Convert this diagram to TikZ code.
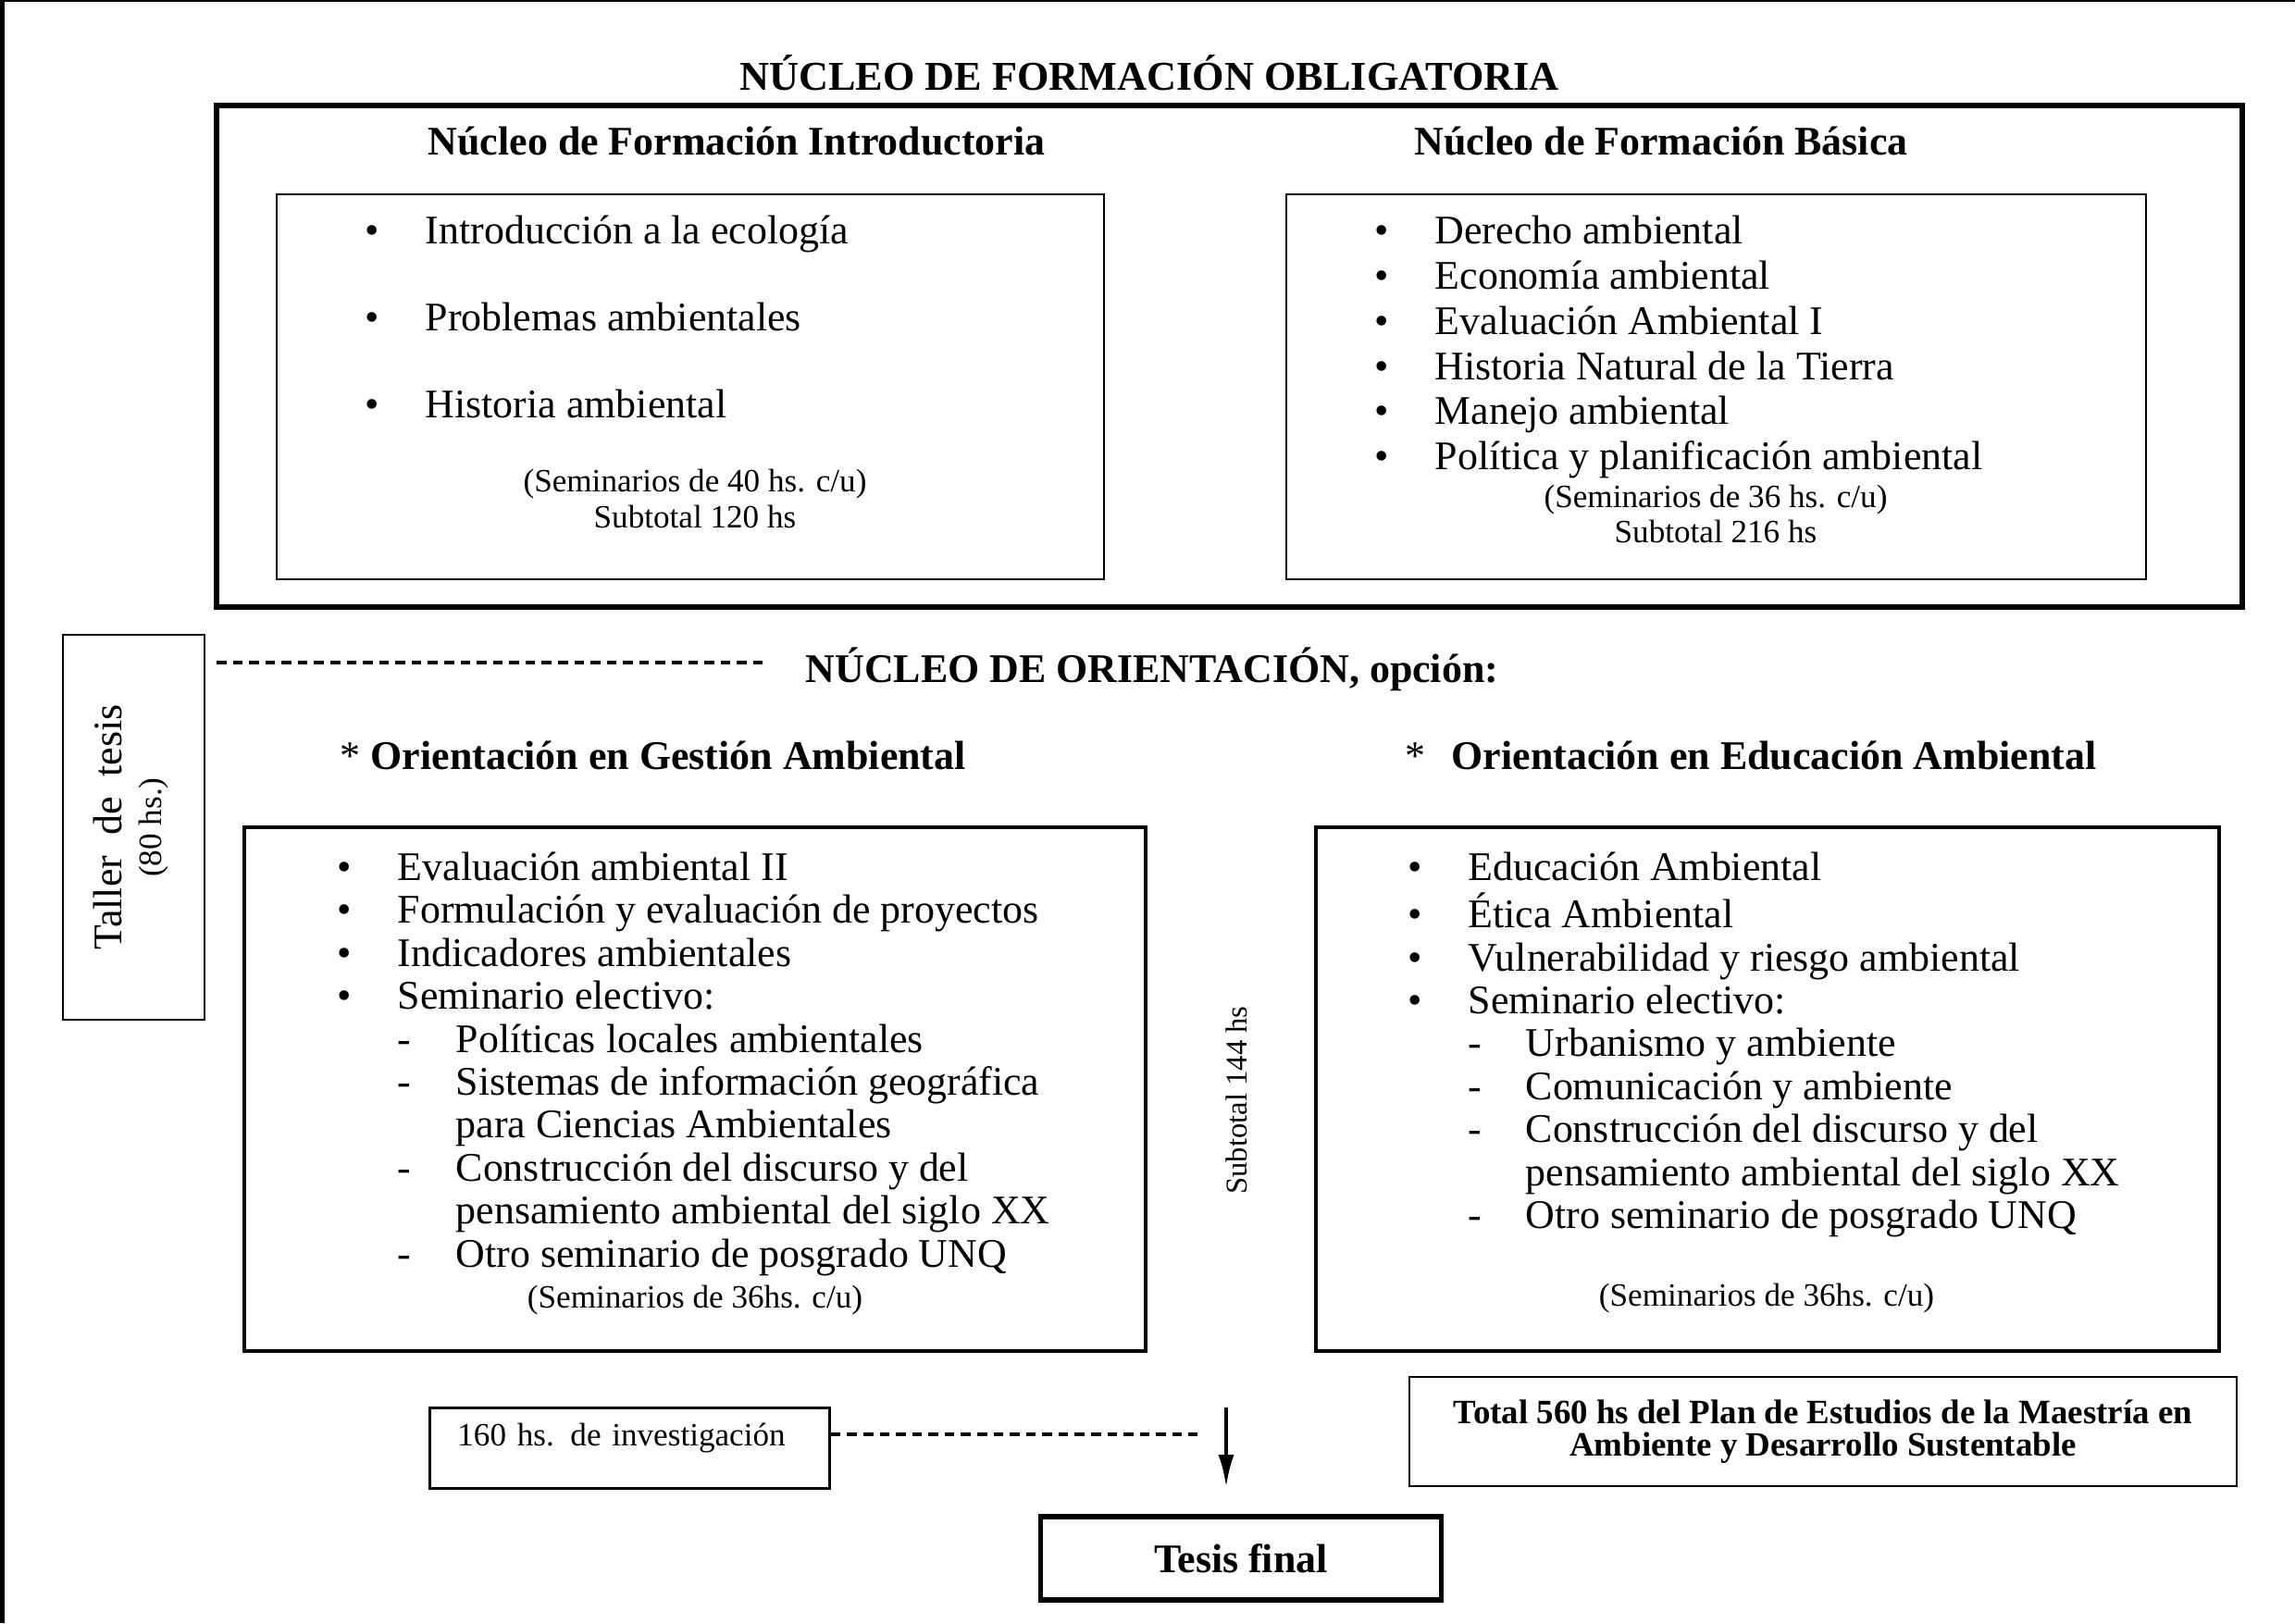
\documentclass[tikz,border=0pt]{standalone}
\usepackage{fontspec}
\setmainfont{Liberation Serif}
\usepackage{graphicx}
\usetikzlibrary{arrows.meta}

\begin{document}
\begin{tikzpicture}[x=1cm,y=-1cm,>={Latex[length=3.5mm,width=1.7mm]},
  txt/.style={inner sep=0pt},
  head/.style={txt,font=\fontsize{12.5}{13.8}\selectfont\bfseries},
  lst/.style={txt,anchor=base west},
  note/.style={txt,align=center,font=\fontsize{10}{11.2}\selectfont},
  orient/.style={txt,anchor=west,font=\fontsize{12.5}{13.8}\selectfont},
  box/.style={draw,line width=0.8pt},
  dline/.style={line width=1pt,dash pattern=on 3pt off 2pt}]
  \useasboundingbox (0,0) rectangle (24.8,17.54);
  \fill (0,0) rectangle (0.05,17.54); \fill (0,0) rectangle (24.8,0.02);
  % nucleo obligatorio
  \node[head,font=\fontsize{12.6}{14}\selectfont\bfseries] (oblig) at (12.42,0.79) {NÚCLEO DE FORMACIÓN OBLIGATORIA};
  \draw[line width=1.7pt] (2.34,1.14) rectangle (24.23,6.56);
  \node[head] (introhead) at (7.96,1.52) {Núcleo de Formación Introductoria};
  \node[head] (basichead) at (17.95,1.52) {Núcleo de Formación Básica};
  \draw[line width=0.8pt] (2.99,2.10) rectangle (11.93,6.26); \draw[line width=0.8pt] (13.90,2.10) rectangle (23.19,6.26);
  \node[lst,font=\fontsize{12.5}{13.8}\selectfont] (intro) at (3.94,2.635) {\begin{tabular}[t]{@{}p{0.65cm}@{}l@{}}
    \textbullet & Introducción a la ecología\\[13pt] \textbullet & Problemas ambientales\\[13pt] \textbullet & Historia ambiental\end{tabular}};
  \node[note] (intronote) at (7.51,5.39) {(Seminarios de 40 hs. c/u)\\Subtotal 120 hs};
  \node[lst,font=\fontsize{12.5}{13.9}\selectfont] (basic) at (14.85,2.635) {\begin{tabular}[t]{@{}p{0.65cm}@{}l@{}}
    \textbullet & Derecho ambiental\\ \textbullet & Economía ambiental\\ \textbullet & Evaluación Ambiental I\\
    \textbullet & Historia Natural de la Tierra\\ \textbullet & Manejo ambiental\\ \textbullet & Política y planificación ambiental\end{tabular}};
  \node[note,font=\fontsize{10}{10.8}\selectfont] (basicnote) at (18.54,5.55) {(Seminarios de 36 hs. c/u)\\Subtotal 216 hs};
  % taller y orientaciones
  \node[box,minimum width=1.53cm,minimum height=4.16cm,inner sep=0pt,font=\fontsize{12.5}{12.2}\selectfont] (taller) at (1.445,8.94)
    {\rotatebox{90}{\begin{tabular}{@{}c@{}}Taller~~de~~tesis\\{\fontsize{10}{11}\selectfont(80 hs.)}\end{tabular}}};
  \node[head,anchor=west] (orienthead) at (8.70,7.23) {NÚCLEO DE ORIENTACIÓN, opción:};
  \coordinate (dstart) at (2.34,7.16); \draw[dline,shorten >=0.4cm] (dstart) -- (dstart -| orienthead.west);
  \node[orient] (gestionhead) at (3.67,8.16) {* \textbf{Orientación en Gestión Ambiental}};
  \node[orient] (educhead) at (15.18,8.16) {*\hspace{8pt}\textbf{Orientación en Educación Ambiental}};
  \draw[line width=1.4pt] (2.64,8.94) rectangle (12.38,14.60); \draw[line width=1.4pt] (14.22,8.94) rectangle (23.98,14.60);
  \node[lst,font=\fontsize{12.5}{13.2}\selectfont] (gestion) at (3.64,9.515) {\begin{tabular}[t]{@{}p{0.65cm}@{}p{0.63cm}@{}l@{}}
    \textbullet & \multicolumn{2}{@{}l@{}}{Evaluación ambiental II}\\ \textbullet & \multicolumn{2}{@{}l@{}}{Formulación y evaluación de proyectos}\\
    \textbullet & \multicolumn{2}{@{}l@{}}{Indicadores ambientales}\\ \textbullet & \multicolumn{2}{@{}l@{}}{Seminario electivo:}\\
    & - & Políticas locales ambientales\\ & - & Sistemas de información geográfica\\ & & para Ciencias Ambientales\\
    & - & Construcción del discurso y del\\ & & pensamiento ambiental del siglo XX\\ & - & Otro seminario de posgrado UNQ\end{tabular}};
  \node[note] (gestionnote) at (7.51,14.05) {(Seminarios de 36hs. c/u)};
  \node[note,rotate=90,font=\fontsize{9.3}{11}\selectfont] (sub144) at (13.36,11.89) {Subtotal 144 hs};
  \node[lst,font=\fontsize{12.5}{13.2}\selectfont] (educ) at (15.21,9.51) {\begin{tabular}[t]{@{}p{0.65cm}@{}p{0.62cm}@{}l@{}}
    \textbullet & \multicolumn{2}{@{}l@{}}{Educación Ambiental}\\ \textbullet & \multicolumn{2}{@{}l@{}}{Ética Ambiental}\\
    \textbullet & \multicolumn{2}{@{}l@{}}{Vulnerabilidad y riesgo ambiental}\\ \textbullet & \multicolumn{2}{@{}l@{}}{Seminario electivo:}\\
    & - & Urbanismo y ambiente\\ & - & Comunicación y ambiente\\ & - & Construcción del discurso y del\\
    & & pensamiento ambiental del siglo XX\\ & - & Otro seminario de posgrado UNQ\end{tabular}};
  \node[note] (educnote) at (19.09,14.03) {(Seminarios de 36hs. c/u)};
  % tesis
  \node[box,anchor=north west,text width=3.72cm,inner xsep=0.3cm,inner ysep=0pt,text height=11.7pt,text depth=13pt,
    font=\fontsize{10}{11}\selectfont] (inv) at (4.63,15.20) {160 hs. de investigación};
  \coordinate (dend) at (12.94,15.50); \draw[dline] (inv.east |- dend) -- (dend);
  \node[draw,line width=1.6pt,minimum width=4.33cm,minimum height=0.90cm,font=\fontsize{12.5}{13.8}\selectfont\bfseries] (tesis) at (13.41,16.84) {Tesis final};
  \coordinate (arrowtop) at (13.25,15.21); \draw[->,line width=1.2pt,shorten >=0.29cm] (arrowtop) -- (arrowtop |- tesis.north);
  \node[box,minimum width=8.94cm,minimum height=1.18cm,align=center,font=\fontsize{10.5}{9.9}\selectfont\bfseries] (total) at (19.70,15.47)
    {Total 560 hs del Plan de Estudios de la Maestría en\\Ambiente y Desarrollo Sustentable};
\end{tikzpicture}
\end{document}
